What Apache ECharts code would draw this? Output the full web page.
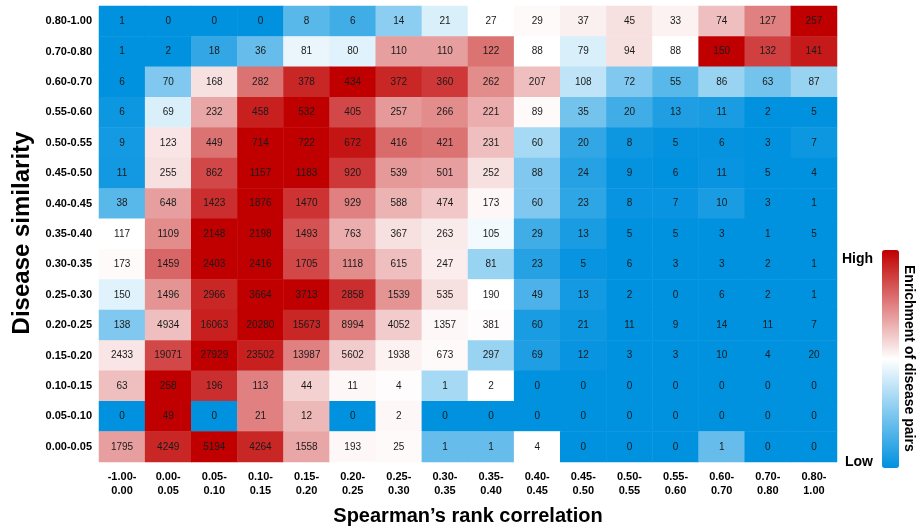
<!DOCTYPE html>
<html>
<head>
<meta charset="utf-8">
<script src="https://cdn.jsdelivr.net/npm/echarts@6/dist/echarts.min.js"></script>
<style>
  html, body { margin: 0; padding: 0; background: #fff; }
  #chart { width: 919px; height: 531px; }
</style>
</head>
<body>
<div id="chart"></div>
<script>
// Spearman's rank correlation bins (columns)
const corrBins = [
  '-1.00-\n0.00', '0.00-\n0.05', '0.05-\n0.10', '0.10-\n0.15', '0.15-\n0.20', '0.20-\n0.25',
  '0.25-\n0.30', '0.30-\n0.35', '0.35-\n0.40', '0.40-\n0.45', '0.45-\n0.50', '0.50-\n0.55',
  '0.55-\n0.60', '0.60-\n0.70', '0.70-\n0.80', '0.80-\n1.00'
];

// Disease similarity bins (rows, listed top to bottom)
const simBins = [
  '0.80-1.00', '0.70-0.80', '0.60-0.70', '0.55-0.60', '0.50-0.55', '0.45-0.50', '0.40-0.45',
  '0.35-0.40', '0.30-0.35', '0.25-0.30', '0.20-0.25', '0.15-0.20', '0.10-0.15', '0.05-0.10', '0.00-0.05'
];

// Number of disease pairs per cell (rows top to bottom)
const pairCounts = [
  [1, 0, 0, 0, 8, 6, 14, 21, 27, 29, 37, 45, 33, 74, 127, 257],
  [1, 2, 18, 36, 81, 80, 110, 110, 122, 88, 79, 94, 88, 150, 132, 141],
  [6, 70, 168, 282, 378, 434, 372, 360, 262, 207, 108, 72, 55, 86, 63, 87],
  [6, 69, 232, 458, 532, 405, 257, 266, 221, 89, 35, 20, 13, 11, 2, 5],
  [9, 123, 449, 714, 722, 672, 416, 421, 231, 60, 20, 8, 5, 6, 3, 7],
  [11, 255, 862, 1157, 1183, 920, 539, 501, 252, 88, 24, 9, 6, 11, 5, 4],
  [38, 648, 1423, 1876, 1470, 929, 588, 474, 173, 60, 23, 8, 7, 10, 3, 1],
  [117, 1109, 2148, 2198, 1493, 763, 367, 263, 105, 29, 13, 5, 5, 3, 1, 5],
  [173, 1459, 2403, 2416, 1705, 1118, 615, 247, 81, 23, 5, 6, 3, 3, 2, 1],
  [150, 1496, 2966, 3664, 3713, 2858, 1539, 535, 190, 49, 13, 2, 0, 6, 2, 1],
  [138, 4934, 16063, 20280, 15673, 8994, 4052, 1357, 381, 60, 21, 11, 9, 14, 11, 7],
  [2433, 19071, 27929, 23502, 13987, 5602, 1938, 673, 297, 69, 12, 3, 3, 10, 4, 20],
  [63, 258, 196, 113, 44, 11, 4, 1, 2, 0, 0, 0, 0, 0, 0, 0],
  [0, 49, 0, 21, 12, 0, 2, 0, 0, 0, 0, 0, 0, 0, 0, 0],
  [1795, 4249, 5194, 4264, 1558, 193, 25, 1, 1, 4, 0, 0, 0, 1, 0, 0]
];

// Enrichment score per cell, -1 (low) .. 1 (high), rows top to bottom
const enrichment = [
  [-1, -1, -1, -1, -0.65, -0.75, -0.45, -0.15, 0.0, 0.02, 0.06, 0.12, 0.05, 0.25, 0.5, 1.0],
  [-1, -1, -0.8, -0.6, -0.08, -0.12, 0.38, 0.38, 0.55, 0.0, -0.15, 0.12, 0.0, 1.0, 0.75, 0.9],
  [-1, -0.5, 0.12, 0.55, 0.85, 1.0, 0.85, 0.78, 0.45, 0.25, -0.25, -0.5, -0.65, -0.4, -0.55, -0.4],
  [-0.95, -0.15, 0.35, 0.88, 1.0, 0.72, 0.4, 0.45, 0.32, 0.02, -0.55, -0.75, -0.88, -0.9, -1, -1],
  [-0.92, 0.1, 0.55, 1.0, 1.0, 0.92, 0.58, 0.55, 0.25, -0.35, -0.8, -0.95, -0.98, -0.98, -1, -0.95],
  [-0.93, 0.12, 0.72, 1.0, 1.0, 0.78, 0.4, 0.38, 0.12, -0.5, -0.85, -0.98, -1, -0.97, -1, -1],
  [-0.65, 0.38, 0.82, 1.0, 0.8, 0.5, 0.3, 0.22, 0.03, -0.5, -0.82, -0.97, -0.97, -0.9, -1, -1],
  [0.0, 0.45, 1.0, 1.0, 0.68, 0.32, 0.12, 0.08, -0.05, -0.75, -0.9, -1, -1, -1, -1, -1],
  [0.02, 0.6, 1.0, 1.0, 0.72, 0.45, 0.25, 0.07, -0.4, -0.85, -0.97, -1, -1, -1, -1, -1],
  [-0.12, 0.42, 0.85, 1.0, 1.0, 0.82, 0.42, 0.12, 0.0, -0.7, -0.92, -1, -1, -1, -1, -1],
  [-0.5, 0.25, 0.88, 1.0, 0.85, 0.5, 0.2, 0.03, 0.01, -0.9, -0.95, -1, -1, -1, -1, -1],
  [0.1, 0.72, 1.0, 0.88, 0.5, 0.2, 0.05, 0.02, -0.4, -0.88, -0.97, -1, -1, -1, -1, -1],
  [0.25, 1.0, 0.82, 0.5, 0.18, 0.03, 0.01, -0.35, 0.0, -1, -1, -1, -1, -1, -1, -1],
  [-1, 1.0, -1, 0.5, 0.28, -1, 0.03, -1, -1, -1, -1, -1, -1, -1, -1, -1],
  [0.38, 0.85, 1.0, 0.85, 0.35, 0.03, 0.02, -0.6, -0.6, 0.0, -1, -1, -1, -0.6, -1, -1]
];

const cells = [];
simBins.forEach((_, r) => {
  corrBins.forEach((_, c) => {
    cells.push([c, r, enrichment[r][c], pairCounts[r][c]]);
  });
});

const FONT = 'Liberation Sans, Arial, sans-serif';
const chart = echarts.init(document.getElementById('chart'), null, { renderer: 'canvas' });

chart.setOption({
  animation: false,
  backgroundColor: '#ffffff',
  grid: { left: 99, right: 82, top: 6, bottom: 61, containLabel: false },
  xAxis: {
    type: 'category',
    data: corrBins,
    name: 'Spearman\u2019s rank correlation',
    nameLocation: 'middle',
    nameGap: 44,
    nameTextStyle: { fontFamily: FONT, fontWeight: 'bold', fontSize: 20, color: '#000' },
    axisLine: { show: false },
    axisTick: { show: false },
    splitArea: { show: false },
    axisLabel: {
      interval: 0, margin: 8, fontFamily: FONT, fontWeight: 'bold',
      fontSize: 11, lineHeight: 14, color: '#000'
    }
  },
  yAxis: {
    type: 'category',
    data: simBins,
    inverse: true,
    axisLine: { show: false },
    axisTick: { show: false },
    axisLabel: {
      interval: 0, margin: 7, fontFamily: FONT, fontWeight: 'bold',
      fontSize: 11, color: '#000'
    }
  },
  visualMap: {
    type: 'continuous',
    min: -1,
    max: 1,
    dimension: 2,
    calculable: false,
    orient: 'vertical',
    left: 882,
    top: 250,
    padding: 0,
    itemWidth: 17,
    itemHeight: 218,
    showLabel: false,
    inRange: { color: ['#0091DF', '#FFFFFF', '#C00000'] }
  },
  graphic: [
    {
      type: 'text', x: 22.5, y: 233, rotation: Math.PI / 2,
      style: { text: 'Disease similarity', font: 'bold 24px ' + FONT, fill: '#000', textAlign: 'center', textVerticalAlign: 'middle' }
    },
    {
      type: 'text', left: 842, top: 252,
      style: { text: 'High', font: 'bold 14px ' + FONT, fill: '#000' }
    },
    {
      type: 'text', left: 845, top: 455,
      style: { text: 'Low', font: 'bold 14px ' + FONT, fill: '#000' }
    },
    {
      type: 'text', x: 902, y: 265, rotation: -Math.PI / 2,
      style: { text: 'Enrichment of disease pairs', font: 'bold 14px ' + FONT, fill: '#000', textAlign: 'left', textVerticalAlign: 'bottom' }
    }
  ],
  series: [{
    type: 'heatmap',
    data: cells,
    encode: { x: 0, y: 1 },
    itemStyle: { borderWidth: 0 },
    label: {
      show: true,
      fontFamily: FONT,
      fontSize: 10,
      color: '#1a1a1a',
      formatter: p => String(p.data[3])
    },
    emphasis: { disabled: true }
  }]
});
</script>
</body>
</html>
